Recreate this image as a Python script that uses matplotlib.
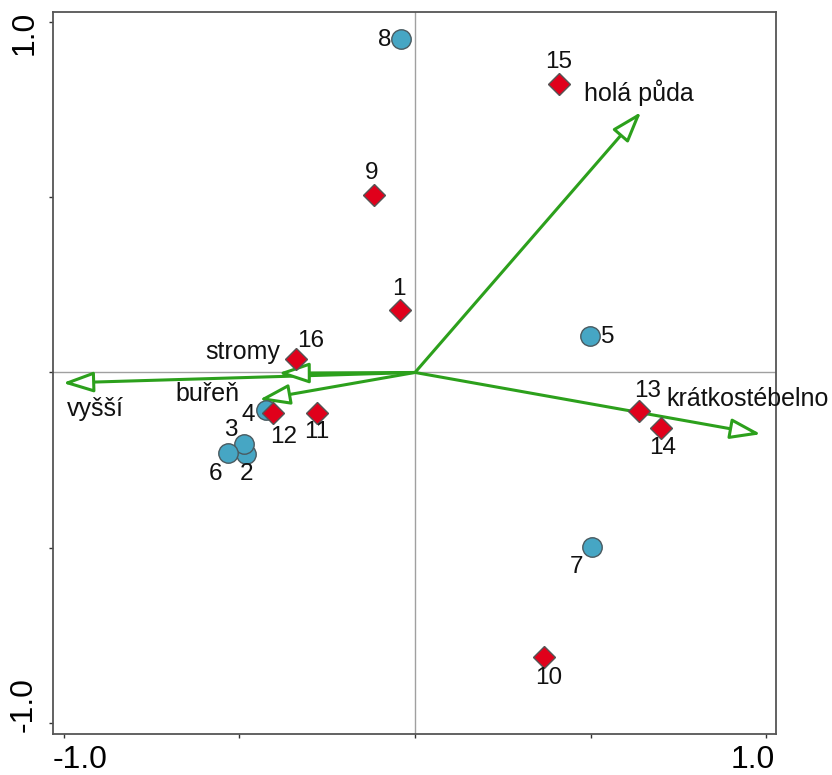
import matplotlib
matplotlib.use("Agg")
import matplotlib.pyplot as plt
from matplotlib.patches import FancyArrowPatch

plt.rcParams['font.family'] = ['Liberation Sans', 'DejaVu Sans']

# sites (circles) and species (diamonds), ordination scores
site_ids = ['2', '3', '4', '5', '6', '7', '8']
site_x = [-0.480, -0.487, -0.425, 0.499, -0.532, 0.504, -0.040]
site_y = [-0.232, -0.204, -0.107, 0.104, -0.231, -0.498, 0.951]

spec_ids = ['1', '9', '10', '11', '12', '13', '14', '15', '16']
spec_x = [-0.043, -0.117, 0.368, -0.280, -0.404, 0.639, 0.700, 0.410, -0.339]
spec_y = [0.178, 0.506, -0.812, -0.115, -0.116, -0.110, -0.157, 0.823, 0.038]

# environmental variables (arrow tips)
env_names = ['holá půda', 'krátkostébelno', 'vyšší', 'stromy', 'buřeň']
env_x = [0.644, 0.985, -1.003, -0.389, -0.444]
env_y = [0.743, -0.176, -0.030, -0.002, -0.078]

# label offsets in pixels
site_off = [(0, -20), (-13, 14), (-18, -5), (18, -1), (-13, -21), (-16, -20), (-16, -1)]
spec_off = [(-1, 21), (-2, 22), (4, -21), (0, -19), (10, -24), (8, 20), (2, -20), (0, 22), (15, 18)]
env_off = [(-57, 19, 'left'), (-95, 35, 'left'), (4, -26, 'left'), (2, 21, 'right'), (-20, 6, 'right')]

green = '#2ca01c'

fig = plt.figure(figsize=(8.32, 7.75), dpi=100)
ax = fig.add_axes([53/832, 41/775, 723/832, 722/775])
ax.set_xlim(-1.031, 1.028)
ax.set_ylim(-1.031, 1.028)

ax.axhline(0, color='#a0a0a0', lw=1.0, zorder=1)
ax.axvline(0, color='#a0a0a0', lw=1.0, zorder=1)

for name, x, y, (dx, dy, ha) in zip(env_names, env_x, env_y, env_off):
    arr = FancyArrowPatch((0, 0), (x, y), arrowstyle='-|>,head_length=1.25,head_width=0.42',
                          mutation_scale=15, shrinkA=0, shrinkB=0, color=green,
                          fc='white', lw=2.2, zorder=2)
    ax.add_patch(arr)
    ax.annotate(name, (x, y), xytext=(dx, dy), textcoords='offset pixels',
                ha=ha, va='center', fontsize=18, color='#111111', zorder=5)

ax.plot(site_x, site_y, 'o', ms=14, mfc='#46a6c4', mec='#4a5a60', mew=1.0, zorder=3)
ax.plot(spec_x, spec_y, 'D', ms=11, mfc='#e0001b', mec='#555555', mew=1.0, zorder=4)

for lab, x, y, (dx, dy) in zip(site_ids + spec_ids, site_x + spec_x, site_y + spec_y, site_off + spec_off):
    ax.annotate(lab, (x, y), xytext=(dx, dy), textcoords='offset pixels',
                ha='center', va='center', fontsize=17.5, color='#111111', zorder=5)

for s in ax.spines.values():
    s.set_color('#555555')
    s.set_linewidth(1.3)

ticks = [-1.0, -0.5, 0.0, 0.5, 1.0]
ax.set_xticks(ticks)
ax.set_yticks(ticks)
ax.set_xticklabels([])
ax.set_yticklabels([])
ax.tick_params(direction='out', length=3, width=1, color='#333333')

# axis labels only at the ends
xt = ax.get_xaxis_transform()
yt = ax.get_yaxis_transform()
ax.annotate('-1.0', (-1.0, 0), xycoords=xt, xytext=(16, -26), textcoords='offset pixels',
            ha='center', va='center', fontsize=23, annotation_clip=False)
ax.annotate('1.0', (1.0, 0), xycoords=xt, xytext=(-13, -26), textcoords='offset pixels',
            ha='center', va='center', fontsize=23, annotation_clip=False)
ax.annotate('1.0', (0, 1.0), xycoords=yt, xytext=(-28, -11), textcoords='offset pixels',
            ha='center', va='center', rotation=90, fontsize=23, annotation_clip=False)
ax.annotate('-1.0', (0, -1.0), xycoords=yt, xytext=(-29, 19), textcoords='offset pixels',
            ha='center', va='center', rotation=90, fontsize=23, annotation_clip=False)

fig.savefig('out.png', dpi=100)
